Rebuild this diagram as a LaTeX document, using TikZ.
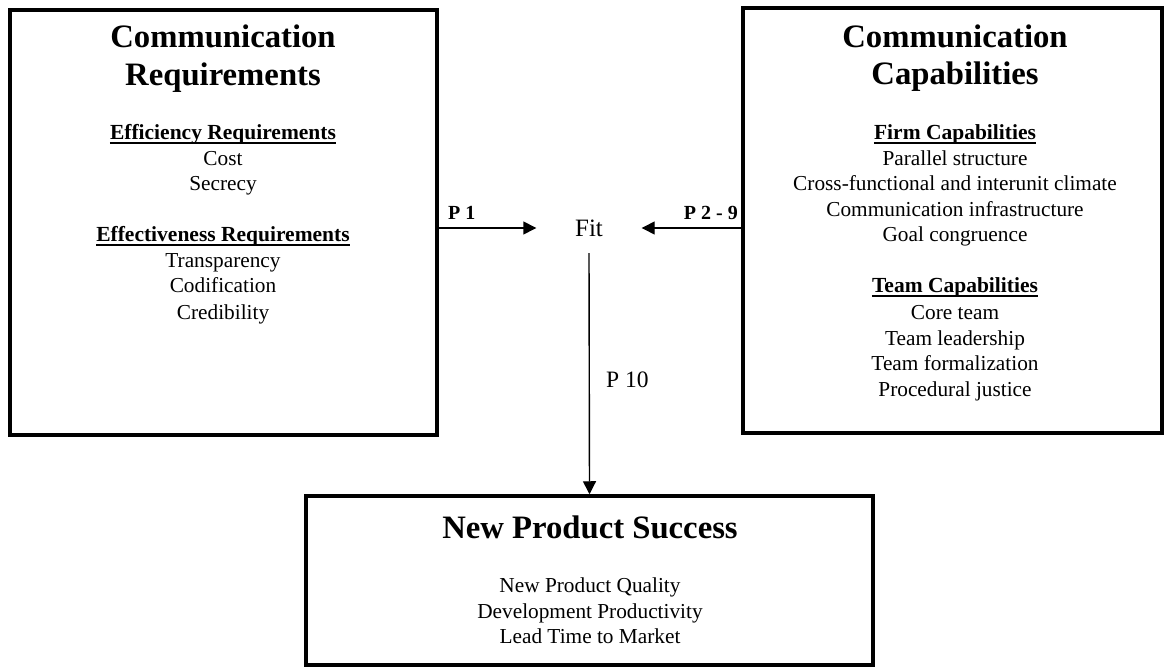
\documentclass[tikz,border=0pt]{standalone}
\usepackage{fontspec}
\setmainfont{Liberation Serif}
\usetikzlibrary{arrows.meta}
\tikzset{
  box/.style={draw, line width=3.5pt, inner sep=0pt},
  ttl/.style={font=\fontsize{32.7}{38}\selectfont\bfseries, anchor=base, inner sep=0pt},
  sub/.style={font=\fontsize{21.5}{25}\selectfont\bfseries, anchor=base, inner sep=0pt},
  item/.style={font=\fontsize{21.3}{25}\selectfont, anchor=base, inner sep=0pt},
  plab/.style={font=\fontsize{20}{24}\selectfont\bfseries, anchor=base, inner sep=0pt},
  conn/.style={line width=1.4pt, -{Triangle[length=13pt,width=13pt]}},
  uline/.style={line width=1.3pt}
}
\begin{document}
\begin{tikzpicture}[x=1pt,y=-1pt]
\useasboundingbox (0,0) rectangle (1164,668);

% boxes
\node[box, minimum width=427pt, minimum height=425pt] (lbox) at (223.5,222.5) {};
\node[box, minimum width=419pt, minimum height=425pt] (rbox) at (952.5,220.5) {};
\node[box, minimum width=567pt, minimum height=169pt] (bbox) at (589.5,580.5) {};

% left box text
\node[ttl] (l1) at (223,48) {Communication};
\node[ttl] (l2) at (223,86) {Requirements};
\node[sub] (ls1) at (223,140) {Efficiency Requirements};
\node[item] (li1) at (223,166) {Cost};
\node[item] (li2) at (223,191) {Secrecy};
\node[sub] (ls2) at (223,242) {Effectiveness Requirements};
\node[item] (li3) at (223,268) {Transparency};
\node[item] (li4) at (223,293) {Codification};
\node[item] (li5) at (223,319) {Credibility};

% right box text
\node[ttl] (r1) at (955,48) {Communication};
\node[ttl] (r2) at (955,85) {Capabilities};
\node[sub] (rs1) at (955,140) {Firm Capabilities};
\node[item] (ri1) at (955,166) {Parallel structure};
\node[item] (ri2) at (955,191) {Cross-functional and interunit climate};
\node[item] (ri3) at (955,217) {Communication infrastructure};
\node[item] (ri4) at (955,242) {Goal congruence};
\node[sub] (rs2) at (955,293) {Team Capabilities};
\node[item] (ri5) at (955,319) {Core team};
\node[item] (ri6) at (955,345) {Team leadership};
\node[item] (ri7) at (955,370) {Team formalization};
\node[item] (ri8) at (955,396) {Procedural justice};

% bottom box text
\node[ttl] (b1) at (590,538) {New Product Success};
\node[item] (bi1) at (590,592) {New Product Quality};
\node[item] (bi2) at (590,618) {Development Productivity};
\node[item] (bi3) at (590,643) {Lead Time to Market};

% underlines
\foreach \n in {ls1,ls2,rs1,rs2}
  \draw[uline] ([yshift=-3pt]\n.base west) -- ([yshift=-3pt]\n.base east);

% fit node
\node[font=\fontsize{25}{30}\selectfont, minimum width=105pt, minimum height=50pt, inner sep=0pt] (fit) at (589,228) {Fit};

% connectors
\draw[conn] (lbox.east |- fit.west) -- (fit.west);
\draw[conn] (rbox.west |- fit.east) -- (fit.east);
\draw[conn] (fit.south) -- (bbox.north);

% labels
\node[plab, anchor=base west] (p1) at (448,220) {P 1};
\node[plab, anchor=base east] (p29) at (738,220) {P 2 - 9};
\node[font=\fontsize{23.5}{28}\selectfont, anchor=base west, inner sep=0pt] (p10) at (606,387) {P 10};
\end{tikzpicture}
\end{document}
